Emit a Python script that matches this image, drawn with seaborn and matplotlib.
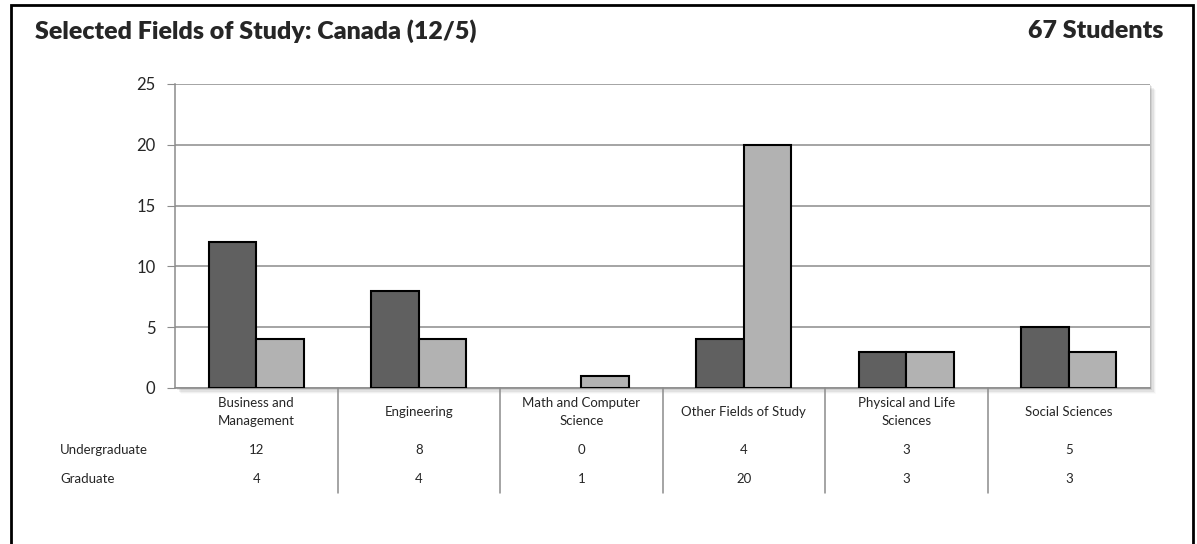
import pandas as pd
import numpy as np
import matplotlib.pyplot as plt
import matplotlib.transforms as mtransforms
from matplotlib.patches import Rectangle
import seaborn as sns

categories = ["Business and\nManagement", "Engineering", "Math and Computer\nScience",
              "Other Fields of Study", "Physical and Life\nSciences", "Social Sciences"]
undergraduate = [12, 8, 0, 4, 3, 5]
graduate = [4, 4, 1, 20, 3, 3]
series_names = ["Undergraduate", "Graduate"]
series_colors = ["#606060", "#b2b2b2"]
title_text = "Selected Fields of Study: Canada (12/5)"
total_text = "67 Students"
y_ticks = [0, 5, 10, 15, 20, 25]

df = pd.DataFrame({
    "field": categories * 2,
    "level": [series_names[0]] * len(categories) + [series_names[1]] * len(categories),
    "count": undergraduate + graduate,
})

sns.set_style("white")
plt.rcParams["font.family"] = ["Lato", "DejaVu Sans"]

fig = plt.figure(figsize=(11.97, 5.44), dpi=100)
W, H = 1197, 544
ax = fig.add_axes([175 / W, 1 - 388 / H, (1150 - 175) / W, (388 - 84) / H])

# drop shadow behind the plot area
for i, a in enumerate([0.10, 0.08, 0.06, 0.04, 0.02]):
    off = (i + 1) * 1.2
    fig.patches.append(Rectangle(((175 + off) / W, 1 - (388 + off) / H),
                                 (1150 - 175) / W, (388 - 84) / H,
                                 transform=fig.transFigure, facecolor="black",
                                 alpha=a, edgecolor="none", zorder=0))

sns.barplot(data=df, x="field", y="count", hue="level", palette=series_colors,
            width=0.585, edgecolor="black", linewidth=1.5, ax=ax, legend=False,
            zorder=3)
# empty bars show no outline
for p in ax.patches:
    if p.get_height() == 0:
        p.set_linewidth(0)
ax.set_facecolor("white")
ax.set_zorder(1)

ax.set_xlim(-0.5, len(categories) - 0.5)
ax.set_ylim(0, 25)
ax.set_yticks(y_ticks)
ax.set_yticklabels([str(t) for t in y_ticks], fontsize=12)
ax.set_xticks([])
ax.set_xlabel("")
ax.set_ylabel("")
ax.yaxis.grid(True, color="#8c8c8c", linewidth=1.1, zorder=0)
ax.set_axisbelow(True)
for s in ["top", "right"]:
    ax.spines[s].set_visible(False)
for s in ["left", "bottom"]:
    ax.spines[s].set_color("#8c8c8c")
    ax.spines[s].set_linewidth(1.1)
ax.tick_params(axis="y", left=True, length=6, color="#8c8c8c", pad=8)

# data table below the chart
trans = mtransforms.blended_transform_factory(ax.transData, ax.transAxes)
ylab = (388 - 412) / 304
yu = (388 - 450) / 304
yg = (388 - 479) / 304
ybot = (388 - 493) / 304
fs = 9.5
for i, cat in enumerate(categories):
    ax.text(i, ylab, cat, transform=trans, ha="center", va="center",
            fontsize=fs, linespacing=1.6, clip_on=False)
    ax.text(i, yu, str(undergraduate[i]), transform=trans, ha="center",
            va="center", fontsize=fs, clip_on=False)
    ax.text(i, yg, str(graduate[i]), transform=trans, ha="center",
            va="center", fontsize=fs, clip_on=False)
for i in range(len(categories) - 1):
    ax.plot([i + 0.5, i + 0.5], [0, ybot], transform=trans, color="#8c8c8c",
            linewidth=1.1, clip_on=False)
fig.text(60 / W, 1 - 450 / H, series_names[0], ha="left", va="center", fontsize=fs)
fig.text(60 / W, 1 - 479 / H, series_names[1], ha="left", va="center", fontsize=fs)

fig.text(35 / W, 1 - 31 / H, title_text, ha="left", va="center",
         fontsize=18, fontweight="heavy")
fig.text(1163 / W, 1 - 31 / H, total_text, ha="right", va="center",
         fontsize=18, fontweight="heavy")

# outer frame
fig.patches.append(Rectangle((10.5 / W, -0.02), (1193 - 10.5) / W, 1.02 - 5.5 / H,
                             transform=fig.transFigure, fill=False,
                             edgecolor="black", linewidth=2, zorder=5))

fig.savefig("out.png", dpi=100)
